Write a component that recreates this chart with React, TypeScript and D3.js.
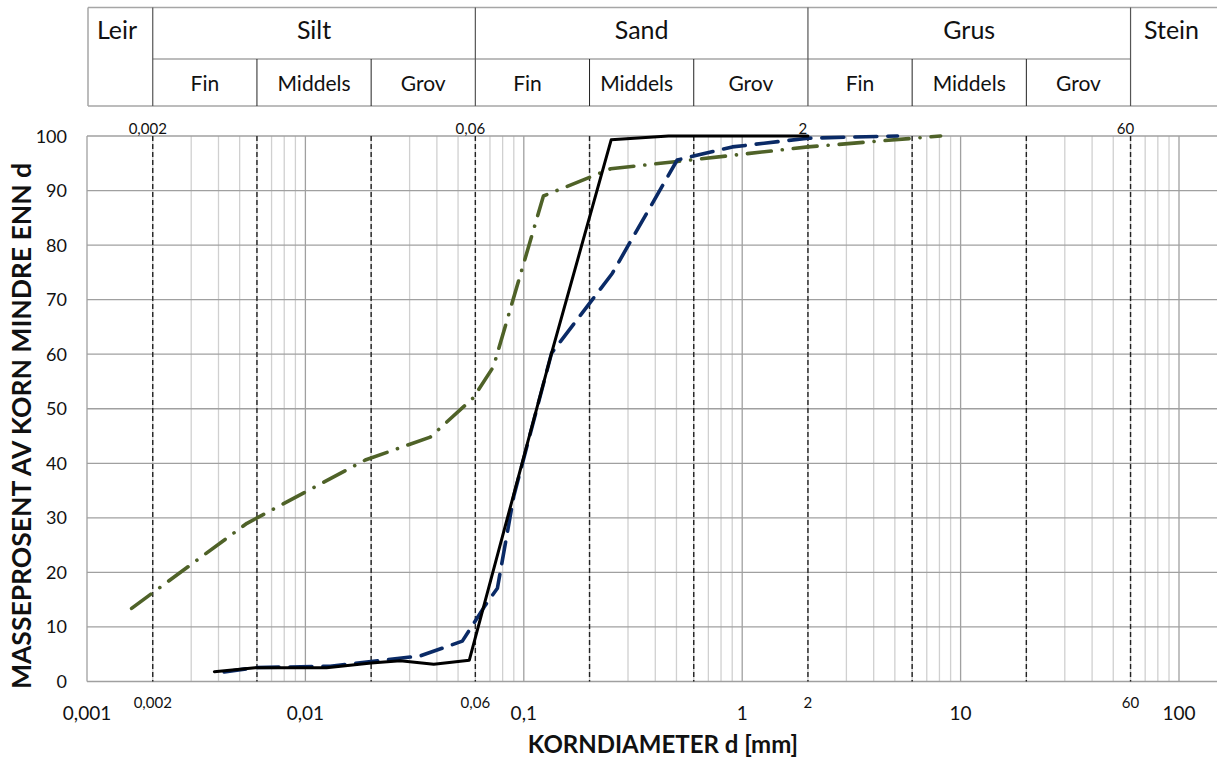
import React, { useEffect, useRef } from "react";
import * as d3 from "d3";

// grain size (mm) and percent passing
const solidD = [0.00383, 0.00589, 0.0125, 0.02, 0.0272, 0.0387, 0.0563, 0.134, 0.2512, 0.46, 2];
const solidP = [1.8, 2.5, 2.5, 3.4, 3.8, 3.15, 3.9, 60.2, 99.3, 100, 100];

const dashD = [0.00425, 0.00589, 0.013, 0.0336, 0.0523, 0.0667, 0.0757, 0.09, 0.134, 0.254, 0.504, 0.901, 2, 5.14];
const dashP = [1.75, 2.55, 2.8, 4.7, 7.4, 14, 17.1, 34, 60.2, 74.8, 95.6, 98, 99.6, 100];

const dashDotD = [0.0016, 0.0054, 0.0188, 0.0373, 0.0587, 0.0726, 0.123, 0.25, 0.522, 2, 8.1];
const dashDotP = [13.4, 29, 40.6, 44.8, 52, 57.7, 89, 94, 95.4, 98, 100];

// axis ticks
const mainTicks = [0.001, 0.01, 0.1, 1, 10, 100];
const mainTickLabels = ["0,001", "0,01", "0,1", "1", "10", "100"];
const limitTicks = [0.002, 0.06, 2, 60];
const limitTickLabels = ["0,002", "0,06", "2", "60"];
const yTicks = [0, 10, 20, 30, 40, 50, 60, 70, 80, 90, 100];

// fraction limits (dashed lines) and the classification table
const fractionLimits = [0.002, 0.006, 0.02, 0.06, 0.2, 0.6, 2, 6, 20, 60];
const mainClasses = ["Leir", "Silt", "Sand", "Grus", "Stein"];
const mainBounds = [0.001, 0.002, 0.06, 2, 60, 200];
const subClasses = ["Fin", "Middels", "Grov"];

const FONT = "Lato, Carlito, Calibri, sans-serif";

const App = () => {
    const svgRef = useRef<SVGSVGElement>(null);

    useEffect(() => {
        const svg = d3.select(svgRef.current);
        svg.selectAll("*").remove();

        const width = 1217;
        const left = 87, right = 1179, top = 136, bottom = 681.5;

        const x = d3.scaleLog().domain([0.001, 100]).range([left, right]);
        const y = d3.scaleLinear().domain([0, 100]).range([bottom, top]);

        // ---- classification table ----
        const tTop = 7.5, tMid = 59, tBot = 106;
        const tbl = svg.append("g");
        tbl.append("line").attr("x1", x(0.001) + 1).attr("x2", width).attr("y1", tTop).attr("y2", tTop)
            .attr("stroke", "#a6a6a6").attr("stroke-width", 1.5);
        tbl.append("line").attr("x1", x(0.001) + 1).attr("x2", width).attr("y1", tBot).attr("y2", tBot)
            .attr("stroke", "#a6a6a6").attr("stroke-width", 1.5);
        tbl.append("line").attr("x1", x(0.001) + 1).attr("x2", x(0.001) + 1).attr("y1", tTop).attr("y2", tBot)
            .attr("stroke", "#a6a6a6").attr("stroke-width", 1.5);
        tbl.append("line").attr("x1", x(0.002)).attr("x2", x(60)).attr("y1", tMid).attr("y2", tMid)
            .attr("stroke", "#a6a6a6").attr("stroke-width", 1.5);

        // main class borders
        tbl.selectAll(".mainB")
            .data([0.002, 0.06, 2, 60])
            .enter().append("line")
            .attr("x1", d => x(d)).attr("x2", d => x(d))
            .attr("y1", tTop).attr("y2", tBot)
            .attr("stroke", "#555").attr("stroke-width", 1.2);

        // sub class borders
        tbl.selectAll(".subB")
            .data([0.006, 0.02, 0.2, 0.6, 6, 20])
            .enter().append("line")
            .attr("x1", d => x(d)).attr("x2", d => x(d))
            .attr("y1", tMid).attr("y2", tBot)
            .attr("stroke", "#222").attr("stroke-width", 1);

        mainClasses.forEach((name, i) => {
            let cx = (x(mainBounds[i]) + x(mainBounds[i + 1])) / 2;
            if (name === "Stein") cx = x(60) + 41;
            if (name === "Leir") cx = x(0.001) + 30;
            tbl.append("text")
                .attr("x", cx).attr("y", 39)
                .attr("text-anchor", "middle")
                .style("font-family", FONT).style("font-size", "25px")
                .attr("fill", "#111")
                .text(name);
        });

        [[0.002, 0.06], [0.06, 2], [2, 60]].forEach(([a, b]) => {
            const edges = [a, a * 3, a * 10, b];
            subClasses.forEach((name, j) => {
                tbl.append("text")
                    .attr("x", (x(edges[j]) + x(edges[j + 1])) / 2).attr("y", 91)
                    .attr("text-anchor", "middle")
                    .style("font-family", FONT).style("font-size", "21px")
                    .attr("fill", "#111")
                    .text(name);
            });
        });

        // ---- grid ----
        const minor: number[] = [];
        for (let e = -3; e < 2; e++) {
            for (let m = 2; m <= 9; m++) minor.push(m * Math.pow(10, e));
        }
        svg.append("g").selectAll("line")
            .data(minor)
            .enter().append("line")
            .attr("x1", d => x(d)).attr("x2", d => x(d))
            .attr("y1", top).attr("y2", bottom)
            .attr("stroke", "#d0d0d0").attr("stroke-width", 1.3);

        svg.append("g").selectAll("line")
            .data(mainTicks)
            .enter().append("line")
            .attr("x1", d => x(d)).attr("x2", d => x(d))
            .attr("y1", top).attr("y2", bottom)
            .attr("stroke", "#a0a0a0").attr("stroke-width", 1.3);

        svg.append("g").selectAll("line")
            .data(yTicks)
            .enter().append("line")
            .attr("x1", left).attr("x2", width)
            .attr("y1", d => y(d)).attr("y2", d => y(d))
            .attr("stroke", "#a0a0a0").attr("stroke-width", 1.3);

        svg.append("g").selectAll("line")
            .data(fractionLimits)
            .enter().append("line")
            .attr("x1", d => x(d)).attr("x2", d => x(d))
            .attr("y1", top).attr("y2", bottom)
            .attr("stroke", "#222").attr("stroke-width", 1.4)
            .attr("stroke-dasharray", "5,3");

        // ---- axis labels ----
        svg.append("g").selectAll("text")
            .data(yTicks)
            .enter().append("text")
            .attr("x", 67).attr("y", d => y(d) + 6.5)
            .attr("text-anchor", "end")
            .style("font-family", FONT).style("font-size", "18px")
            .attr("fill", "#111")
            .text(d => d);

        svg.append("g").selectAll("text")
            .data(mainTicks)
            .enter().append("text")
            .attr("x", d => x(d)).attr("y", 720)
            .attr("text-anchor", "middle")
            .style("font-family", FONT).style("font-size", "19px")
            .attr("fill", "#111")
            .text((d, i) => mainTickLabels[i]);

        svg.append("g").selectAll("text")
            .data(limitTicks)
            .enter().append("text")
            .attr("x", d => x(d)).attr("y", 708)
            .attr("text-anchor", "middle")
            .style("font-family", FONT).style("font-size", "15px")
            .attr("fill", "#111")
            .text((d, i) => limitTickLabels[i]);

        svg.append("g").selectAll("text")
            .data(limitTicks)
            .enter().append("text")
            .attr("x", d => x(d) - 5).attr("y", 134)
            .attr("text-anchor", "middle")
            .style("font-family", FONT).style("font-size", "15px")
            .attr("fill", "#111")
            .text((d, i) => limitTickLabels[i]);

        svg.append("text")
            .attr("x", 663).attr("y", 753)
            .attr("text-anchor", "middle")
            .style("font-family", FONT).style("font-size", "24px").style("font-weight", "bold")
            .attr("fill", "#111")
            .text("KORNDIAMETER d [mm]");

        svg.append("text")
            .attr("transform", "translate(31,426) rotate(-90)")
            .attr("text-anchor", "middle")
            .style("font-family", FONT).style("font-size", "26.5px").style("font-weight", "bold")
            .attr("fill", "#111")
            .text("MASSEPROSENT AV KORN MINDRE ENN d");

        // ---- curves ----
        const line = d3.line<[number, number]>()
            .x(d => x(d[0]))
            .y(d => y(d[1]));

        const series = [
            { d: dashDotD, p: dashDotP, color: "#4f6228", dash: "24,11,0.1,11", w: 3.6 },
            { d: dashD, p: dashP, color: "#0a2a66", dash: "22,11", w: 3.6 },
            { d: solidD, p: solidP, color: "#000", dash: null, w: 3 },
        ];
        series.forEach(s => {
            svg.append("path")
                .datum(s.d.map((v, i) => [v, s.p[i]] as [number, number]))
                .attr("d", line)
                .attr("fill", "none")
                .attr("stroke", s.color)
                .attr("stroke-width", s.w)
                .attr("stroke-linecap", "round")
                .attr("stroke-linejoin", "round")
                .attr("stroke-dasharray", s.dash);
        });
    }, []);

    return (
        <svg ref={svgRef} width={1217} height={757}
            style={{ position: "absolute", left: 0, top: 0, background: "#fff" }} />
    );
};

export default App;
